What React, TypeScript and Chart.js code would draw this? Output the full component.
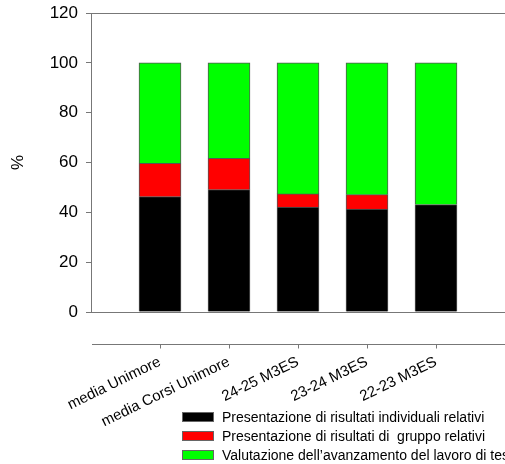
import React, { useEffect, useRef } from "react";
import { Chart, registerables } from "chart.js";

Chart.register(...registerables);

const categories = ["media Unimore", "media Corsi Unimore", "24-25 M3ES", "23-24 M3ES", "22-23 M3ES"];
const individuali = [46.3, 49.1, 42.1, 41.3, 43.1];
const gruppo = [13.4, 12.6, 5.3, 5.8, 0];
const avanzamento = [40.3, 38.3, 52.6, 52.9, 56.9];
const seriesLabels = [
  "Presentazione di risultati individuali relativi",
  "Presentazione di risultati di  gruppo relativi",
  "Valutazione dell\u2019avanzamento del lavoro di tesi",
];
const seriesColors = ["#000000", "#ff0000", "#00ff00"];
const yTicks = [0, 20, 40, 60, 80, 100, 120];

const FONT = "'Liberation Sans', Arial, sans-serif";
const AXIS = "#777777";

const pad = (arr: (number | null)[]) => [null, ...arr, null];

const zeroPad = (s: any) => {
  s.paddingLeft = 0;
  s.paddingRight = 0;
  s.paddingTop = 0;
  s.paddingBottom = 0;
};

const framePlugin = {
  id: "frame",
  afterDraw(chart: any) {
    const { ctx, chartArea, scales } = chart;
    const x = scales.x;
    ctx.save();
    ctx.strokeStyle = AXIS;
    ctx.lineWidth = 1;
    // top and bottom lines of the plot box
    ctx.beginPath();
    ctx.moveTo(chartArea.left, Math.round(chartArea.top) + 0.5);
    ctx.lineTo(chartArea.right, Math.round(chartArea.top) + 0.5);
    ctx.moveTo(chartArea.left, Math.round(chartArea.bottom) + 0.5);
    ctx.lineTo(chartArea.right, Math.round(chartArea.bottom) + 0.5);
    ctx.stroke();
    // offset category axis
    const ay = Math.round(chartArea.bottom + 32) + 0.5;
    ctx.beginPath();
    ctx.moveTo(chartArea.left + 1, ay);
    ctx.lineTo(chartArea.right, ay);
    for (let i = 1; i <= categories.length; i++) {
      const px = Math.round(x.getPixelForValue(i)) + 0.5;
      ctx.moveTo(px, ay);
      ctx.lineTo(px, ay + 4);
    }
    ctx.stroke();
    // legend
    ctx.font = `14px ${FONT}`;
    ctx.textBaseline = "middle";
    ctx.textAlign = "left";
    const lx = 182;
    const ly0 = 417;
    seriesLabels.forEach((lab, i) => {
      const cy = ly0 + i * 19;
      ctx.fillStyle = seriesColors[i];
      ctx.fillRect(lx, cy - 5, 32, 10);
      ctx.strokeStyle = "#666666";
      ctx.strokeRect(lx + 0.5, cy - 5 + 0.5, 31, 9);
      ctx.fillStyle = "#000000";
      ctx.fillText(lab, 222, cy + 1);
    });
    ctx.restore();
  },
};

export default function App() {
  const ref = useRef<HTMLCanvasElement | null>(null);
  useEffect(() => {
    if (!ref.current) return;
    Chart.defaults.font.family = FONT;
    const ds = (label: string, data: number[], color: string) => ({
      label,
      data: pad(data),
      backgroundColor: color,
      borderColor: "#555555",
      borderWidth: 1,
      barThickness: 42,
    });
    const chart = new Chart(ref.current, {
      type: "bar",
      data: {
        labels: ["", ...categories, ""],
        datasets: [
          ds(seriesLabels[0], individuali, seriesColors[0]),
          ds(seriesLabels[1], gruppo, seriesColors[1]),
          ds(seriesLabels[2], avanzamento, seriesColors[2]),
        ] as any,
      },
      options: {
        animation: false,
        responsive: false,
        layout: { padding: { top: 13, right: 0, left: 0, bottom: 0 } },
        plugins: { legend: { display: false }, tooltip: { enabled: false }, title: { display: false } },
        scales: {
          x: {
            type: "category",
            stacked: true,
            offset: false,
            grid: { display: false, drawTicks: false },
            border: { display: false },
            ticks: {
              autoSkip: false,
              maxRotation: 26,
              minRotation: 26,
              padding: 41,
              color: "#000",
              font: { size: 15, family: FONT },
            },
            afterFit: (s: any) => {
              s.height = 152;
              zeroPad(s);
            },
          },
          y: {
            stacked: true,
            min: 0,
            max: 120,
            afterBuildTicks: (s: any) => {
              s.ticks = yTicks.map((v) => ({ value: v }));
            },
            grid: { display: true, drawOnChartArea: false, drawTicks: true, tickLength: 5, color: AXIS },
            border: { display: true, color: AXIS },
            ticks: { padding: 8, color: "#000", font: { size: 17, family: FONT } },
            title: { display: true, text: "%", color: "#000", font: { size: 17, family: FONT }, padding: { top: 8, bottom: 0 } },
            afterFit: (s: any) => {
              s.width = 91;
              zeroPad(s);
            },
          },
        },
      },
      plugins: [framePlugin],
    });
    return () => chart.destroy();
  }, []);
  return (
    <div style={{ position: "absolute", left: 0, top: 0, width: 505, height: 464, background: "#fff" }}>
      <canvas ref={ref} width={505} height={464} />
    </div>
  );
}
